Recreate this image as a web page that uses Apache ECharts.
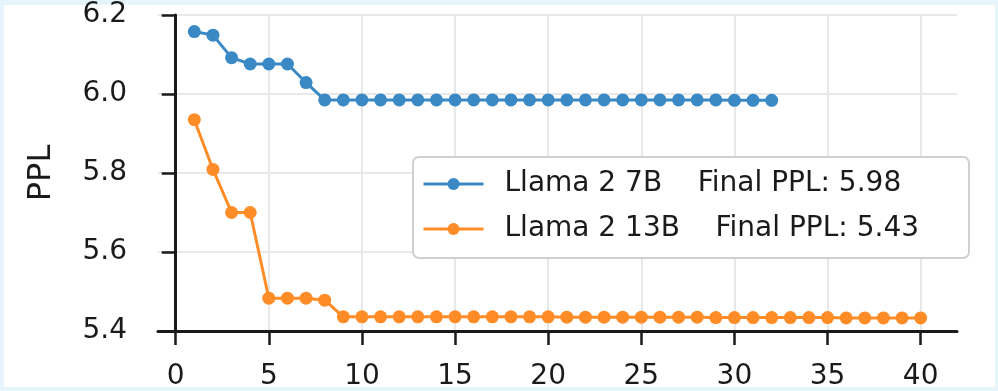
<!DOCTYPE html>
<html>
<head>
<meta charset="utf-8">
<script src="https://cdn.jsdelivr.net/npm/echarts@6/dist/echarts.min.js"></script>
<style>
  html, body { margin: 0; padding: 0; background: #e6f4fb; }
  #panel { position: absolute; left: 4px; top: 5px; width: 991px; height: 382px; background: #fff; }
  #chart { position: absolute; left: 0; top: 0; width: 998px; height: 391px; }
</style>
</head>
<body>
<div id="panel"></div>
<div id="chart"></div>
<script>
const steps7b = [1, 2, 3, 4, 5, 6, 7, 8, 9, 10, 11, 12, 13, 14, 15, 16, 17, 18, 19, 20,
  21, 22, 23, 24, 25, 26, 27, 28, 29, 30, 31, 32];
const ppl7b = [6.158, 6.149, 6.092, 6.076, 6.076, 6.076, 6.029, 5.985, 5.985, 5.985,
  5.985, 5.985, 5.985, 5.985, 5.985, 5.985, 5.985, 5.985, 5.985, 5.985,
  5.985, 5.985, 5.985, 5.985, 5.985, 5.985, 5.985, 5.985, 5.985, 5.984, 5.984, 5.984];
const steps13b = [1, 2, 3, 4, 5, 6, 7, 8, 9, 10, 11, 12, 13, 14, 15, 16, 17, 18, 19, 20,
  21, 22, 23, 24, 25, 26, 27, 28, 29, 30, 31, 32, 33, 34, 35, 36, 37, 38, 39, 40];
const ppl13b = [5.935, 5.809, 5.700, 5.700, 5.483, 5.483, 5.483, 5.478, 5.436, 5.436,
  5.436, 5.436, 5.436, 5.436, 5.436, 5.436, 5.436, 5.436, 5.436, 5.436,
  5.435, 5.435, 5.435, 5.435, 5.435, 5.435, 5.435, 5.435, 5.434, 5.434,
  5.434, 5.434, 5.434, 5.434, 5.434, 5.433, 5.433, 5.433, 5.433, 5.433];
const xTicks = [0, 5, 10, 15, 20, 25, 30, 35, 40];
const names = ['Llama 2 7B', 'Llama 2 13B'];
const finalPPL = { 'Llama 2 7B': '5.98', 'Llama 2 13B': '5.43' };

const font = 'DejaVu Sans';
const ink = '#1a1a1a';
const gridColor = '#e8e8e8';

const chart = echarts.init(document.getElementById('chart'));
chart.setOption({
  backgroundColor: 'transparent',
  animation: false,
  grid: { left: 158, right: 41, top: 15, bottom: 59, containLabel: false },
  xAxis: {
    type: 'value',
    min: -0.95,
    max: 41.95,
    axisLine: { lineStyle: { color: ink, width: 3 } },
    axisTick: { show: true, length: 14, lineStyle: { color: ink, width: 2.5 }, customValues: xTicks },
    axisLabel: { customValues: xTicks, margin: 32, fontFamily: font, fontSize: 28, color: ink },
    splitLine: { show: true, lineStyle: { color: gridColor, width: 2 } }
  },
  yAxis: {
    type: 'value',
    min: 5.4,
    max: 6.2,
    interval: 0.2,
    name: 'PPL',
    nameLocation: 'middle',
    nameGap: 100,
    nameTextStyle: { fontFamily: font, fontSize: 32, color: ink },
    axisLine: { show: true, lineStyle: { color: ink, width: 3 } },
    axisTick: { show: true, length: 14, lineStyle: { color: ink, width: 2.5 } },
    axisLabel: { margin: 31, fontFamily: font, fontSize: 28, color: ink, formatter: v => v.toFixed(1) },
    splitLine: { show: true, lineStyle: { color: gridColor, width: 2 } }
  },
  legend: {
    orient: 'vertical',
    left: 413,
    top: 157,
    padding: [13, 50, 15, 9],
    itemWidth: 60,
    itemHeight: 15,
    itemGap: 17,
    backgroundColor: '#fff',
    borderColor: '#d0d0d0',
    borderWidth: 2,
    borderRadius: 6,
    data: names,
    lineStyle: { width: 3 },
    formatter: n => n + '    Final PPL: ' + finalPPL[n],
    textStyle: { fontFamily: font, fontSize: 28, color: ink, padding: [0, 0, 0, 16] }
  },
  series: [{
    name: names[0],
    type: 'line',
    data: steps7b.map((s, i) => [s, ppl7b[i]]),
    symbol: 'circle',
    symbolSize: 13,
    color: '#3a89c4',
    lineStyle: { width: 3 }
  }, {
    name: names[1],
    type: 'line',
    data: steps13b.map((s, i) => [s, ppl13b[i]]),
    symbol: 'circle',
    symbolSize: 13,
    color: '#ff8c26',
    lineStyle: { width: 3 }
  }]
});
</script>
</body>
</html>
